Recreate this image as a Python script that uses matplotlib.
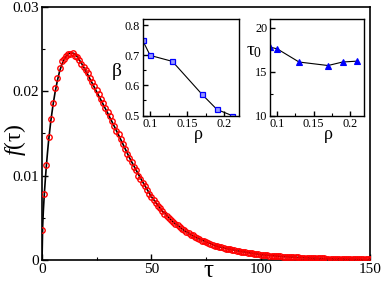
import matplotlib
matplotlib.use("Agg")
import matplotlib.pyplot as plt
import numpy as np
from matplotlib.ticker import MultipleLocator

plt.rcParams['font.family'] = ['Liberation Serif', 'DejaVu Serif']
plt.rcParams['mathtext.fontset'] = 'custom'
plt.rcParams['mathtext.rm'] = 'Liberation Serif'
plt.rcParams['mathtext.it'] = 'Liberation Serif:italic'

# ---- main data: distribution f(tau), tau = 0..150 ----
tau = list(range(151))
f_data = [
    0.0036, 0.0078, 0.0112, 0.0145, 0.0167, 0.0186, 0.0203, 0.0215, 0.0227, 0.0235,
    0.0238, 0.0241, 0.0244, 0.0244, 0.0245, 0.0242, 0.0240, 0.0237, 0.0232, 0.0229,
    0.0225, 0.0221, 0.0216, 0.0211, 0.0206, 0.0201, 0.0196, 0.0191, 0.0186, 0.0180,
    0.0175, 0.0170, 0.0164, 0.0159, 0.0153, 0.0149, 0.0143, 0.0137, 0.0131, 0.0126,
    0.0121, 0.0116, 0.0110, 0.0106, 0.0100, 0.0096, 0.0091, 0.0087, 0.0083, 0.0078,
    0.0075, 0.0071, 0.0067, 0.0064, 0.0061, 0.0058, 0.0055, 0.0052, 0.0050, 0.0047,
    0.0045, 0.0043, 0.0041, 0.0039, 0.0037, 0.0035, 0.0033, 0.0032, 0.0030, 0.0029,
    0.0027, 0.0026, 0.0025, 0.0023, 0.0022, 0.0021, 0.0020, 0.0019, 0.0018, 0.0017,
    0.0016, 0.00155, 0.0015, 0.0014, 0.00135, 0.0013, 0.00125, 0.0012, 0.00115, 0.0011,
    0.00105, 0.0010, 0.00095, 0.0009, 0.00085, 0.0008, 0.00077, 0.00073, 0.0007, 0.00067,
    0.00064, 0.00061, 0.00058, 0.00056, 0.00053, 0.00051, 0.00049, 0.00047, 0.00045, 0.00043,
    0.00041, 0.00039, 0.00037, 0.00036, 0.00034, 0.00033, 0.00031, 0.0003, 0.00029, 0.00027,
    0.00026, 0.00025, 0.00024, 0.00023, 0.00022, 0.00021, 0.0002, 0.00019, 0.00018, 0.00018,
    0.00017, 0.00016, 0.00015, 0.00015, 0.00014, 0.00013, 0.00013, 0.00012, 0.00012, 0.00011,
    0.00011, 0.0001, 0.0001, 0.0001, 0.00009, 0.00009, 0.00008, 0.00008, 0.00008, 0.00007,
    0.00007,
]

# ---- fitted curve ----
tau_fit = [0, 0.3, 0.6, 1, 1.5, 2, 2.5, 3, 4, 5, 6, 7, 8, 9, 10, 11, 12, 13, 14, 15,
           16, 18, 20, 22, 25, 30, 35, 40, 45, 50, 55, 60, 65, 70, 80, 90, 100, 110,
           120, 130, 140, 150]
f_fit = [0, 0.0040, 0.0058, 0.0076, 0.0095, 0.0112, 0.0127, 0.0141, 0.0164, 0.0183,
         0.0199, 0.0212, 0.0223, 0.0231, 0.0237, 0.0241, 0.0244, 0.0245, 0.0245, 0.0244,
         0.0241, 0.0233, 0.0224, 0.0214, 0.0199, 0.0174, 0.0148, 0.0121, 0.0097, 0.0075,
         0.0058, 0.0045, 0.0035, 0.0027, 0.0016, 0.00105, 0.00064, 0.00041, 0.00026,
         0.00017, 0.00011, 0.00007]

# ---- insets ----
rho = [0.09, 0.10, 0.13, 0.17, 0.19, 0.21]
beta = [0.75, 0.70, 0.68, 0.57, 0.52, 0.50]
tau0 = [17.8, 17.6, 16.1, 15.7, 16.1, 16.2]

main_xticks = [0, 50, 100, 150]
main_yticks = [0, 0.01, 0.02, 0.03]
main_yticklabels = ['0', '0.01', '0.02', '0.03']

fig = plt.figure(figsize=(3.82, 2.84), dpi=100)
ax = fig.add_axes([0.110, 0.0845, 0.8586, 0.8925])


def style(a, lw=1.2, major=4.5, minor=2.5, lsize=11):
    for s in a.spines.values():
        s.set_linewidth(lw)
        s.set_color('black')
    a.tick_params(which='both', direction='in', top=False, right=False,
                  labelsize=lsize, pad=2)
    a.tick_params(which='major', length=major, width=1.0)
    a.tick_params(which='minor', length=minor, width=0.8)


ax.plot(tau, f_data, linestyle='none', marker='o', markersize=3.9,
        markerfacecolor='none', markeredgecolor='#ff0000', markeredgewidth=1.0, zorder=3)
ax.plot(tau_fit, f_fit, color='black', linewidth=1.2, zorder=2)
ax.set_xlim(0, 150)
ax.set_ylim(0, 0.03)
ax.set_xticks(main_xticks)
ax.set_xticklabels([str(t) for t in main_xticks])
ax.set_yticks(main_yticks)
ax.set_yticklabels(main_yticklabels)
ax.xaxis.set_minor_locator(MultipleLocator(25))
ax.yaxis.set_minor_locator(MultipleLocator(0.005))
style(ax)
fig.text(0.545, 0.045, 'τ', fontsize=18, ha='center', va='center')
fig.text(0.038, 0.51, r'$\mathit{f}\mathrm{(\tau)}$', fontsize=17,
         rotation=90, ha='center', va='center')

# inset 1: beta
ax1 = fig.add_axes([0.3735, 0.5933, 0.2529, 0.3387])
ax1.plot(rho, beta, color='black', linewidth=0.8, marker='s', markersize=3.6,
         markerfacecolor='#9999ff', markeredgecolor='#0000ff', markeredgewidth=0.9)
ax1.set_xlim(0.09, 0.22)
ax1.set_ylim(0.5, 0.82)
ax1.set_xticks([0.1, 0.15, 0.2])
ax1.set_xticklabels(['0.1', '0.15', '0.2'])
ax1.set_yticks([0.5, 0.6, 0.7, 0.8])
ax1.set_yticklabels(['0.5', '0.6', '0.7', '0.8'])
ax1.xaxis.set_minor_locator(MultipleLocator(0.025))
ax1.yaxis.set_minor_locator(MultipleLocator(0.05))
style(ax1, lw=1.0, major=3.5, minor=2, lsize=8.8)
fig.text(0.305, 0.75, 'β', fontsize=14, ha='center', va='center')
fig.text(0.52, 0.525, 'ρ', fontsize=13, ha='center', va='center')

# inset 2: tau0
ax2 = fig.add_axes([0.7068, 0.5933, 0.2469, 0.3396])
ax2.plot(rho, tau0, color='black', linewidth=0.8, marker='^', markersize=4,
         markerfacecolor='#0000ff', markeredgecolor='#0000ff', markeredgewidth=0.8)
ax2.set_xlim(0.09, 0.22)
ax2.set_ylim(10, 21)
ax2.set_xticks([0.1, 0.15, 0.2])
ax2.set_xticklabels(['0.1', '0.15', '0.2'])
ax2.set_yticks([10, 15, 20])
ax2.set_yticklabels(['10', '15', '20'])
ax2.xaxis.set_minor_locator(MultipleLocator(0.025))
ax2.yaxis.set_minor_locator(MultipleLocator(2.5))
style(ax2, lw=1.0, major=3.5, minor=2, lsize=8.8)
fig.text(0.665, 0.82, r'$\mathrm{\tau_0}$', fontsize=14, ha='center', va='center')
fig.text(0.86, 0.525, 'ρ', fontsize=13, ha='center', va='center')

fig.savefig('out.png', dpi=100)
